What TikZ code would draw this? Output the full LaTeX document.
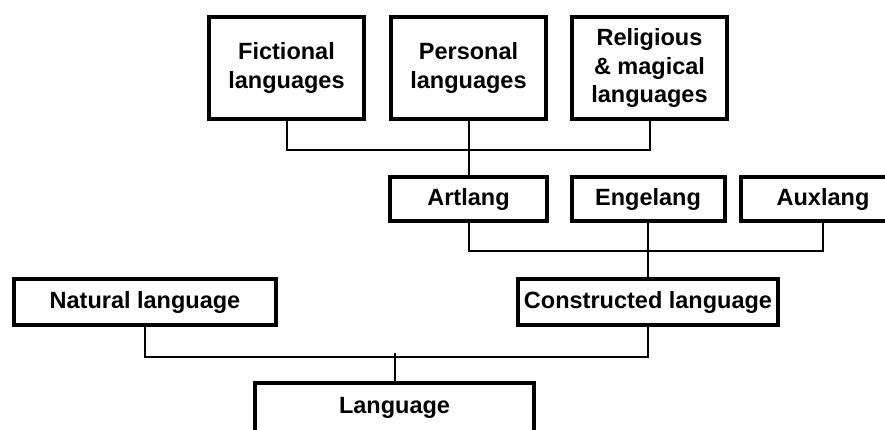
\documentclass[tikz,border=0pt]{standalone}
\usepackage{fontspec}
\setmainfont{Liberation Sans}
\usetikzlibrary{positioning}

\begin{document}
\begin{tikzpicture}[
            x=1pt, y=-1pt,
            every node/.style={draw, align=center, inner sep=0pt, font=\bfseries\fontsize{23.5}{28.5}\selectfont},
            topbox/.style={line width=4.5pt, minimum width=155pt, minimum height=102pt},
            midbox/.style={line width=4pt, minimum width=155pt, minimum height=44pt},
            lowbox/.style={line width=3.5pt, minimum width=261pt, minimum height=46pt},
            link/.style={line width=2pt}
          ]
        \clip (0,0) rectangle (885,429);
        \fill[white] (0,0) rectangle (885,429);

        \node[topbox] (fictional) at (286.5,68) {Fictional\\languages};
        \node[topbox] (personal) at (468.5,68) {Personal\\languages};
        \node[topbox] (religious) at (649.5,68) {Religious\\\& magical\\languages};

        \node[midbox, minimum width=157pt] (artlang) at (468.5,199) {Artlang};
        \node[midbox, minimum width=153pt] (engelang) at (648,199) {Engelang};
        \node[midbox, minimum width=165pt] (auxlang) at (823,199) {Auxlang};

        \node[lowbox, minimum width=262pt] (natural) at (145,302) {Natural language};
        \node[lowbox, minimum width=260pt] (constructed) at (648,302) {Constructed language};
        \node[lowbox, line width=4pt, minimum width=279pt, minimum height=50pt] (language) at (394.5,408) {Language};

        \draw[link] (fictional.south) -- ++(0,29) -| (religious.south);
        \draw[link] (personal.south) -- (artlang.north);
        \draw[link] (artlang.south) -- ++(0,28) -| (auxlang.south);
        \draw[link] (engelang.south) -- (constructed.north);
        \draw[link] (natural.south) -- ++(0,30) -| (constructed.south);
        \draw[link] (language.north) -- ++(0,-28);

        \end{tikzpicture}
\end{document}
